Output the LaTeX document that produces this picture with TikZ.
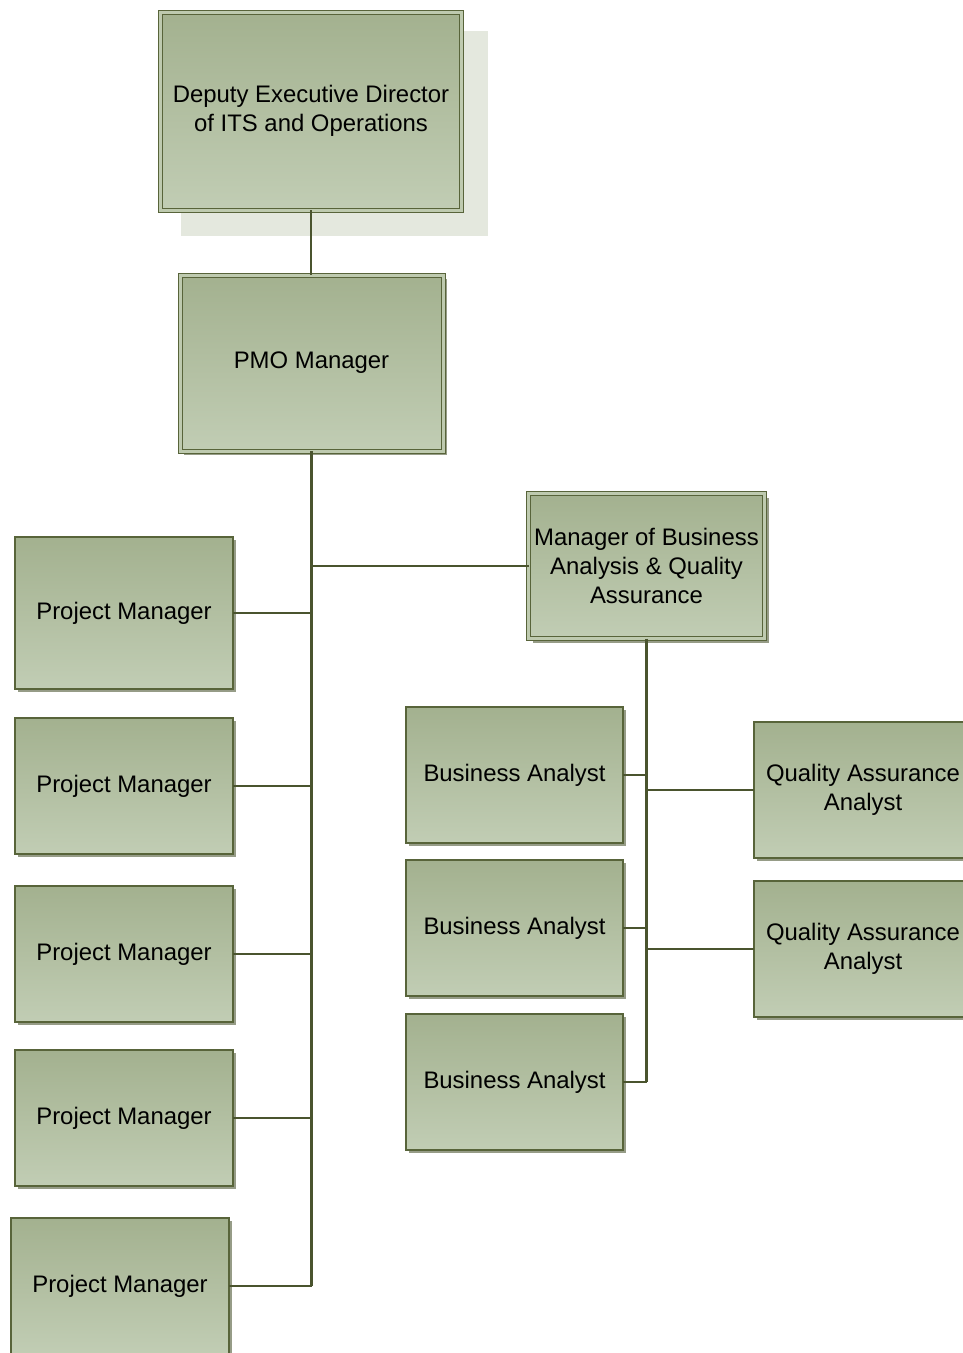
\documentclass[tikz,border=0pt]{standalone}
\usepackage{fontspec}
\setmainfont{Liberation Sans}
\usetikzlibrary{shadows}
\definecolor{boxtop}{RGB}{163,177,143}
\definecolor{boxbot}{RGB}{193,205,180}
\definecolor{edge}{RGB}{88,100,58}
\definecolor{link}{RGB}{74,84,46}
\definecolor{bigshadow}{RGB}{228,232,222}
\definecolor{smallshadow}{RGB}{150,156,135}
\definecolor{gapfill}{RGB}{190,202,175}
\tikzset{
  base/.style={rectangle, inner sep=0pt, outer sep=0pt, align=center,
    top color=boxtop, bottom color=boxbot,
    font=\fontsize{23.9}{29}\selectfont, text=black},
  single/.style={base, draw=edge, line width=1.2pt,
    drop shadow={shadow xshift=3pt, shadow yshift=-3pt, fill=smallshadow, opacity=1}},
  dbl/.style={base, draw=edge, line width=1pt, double=gapfill, double distance=3pt},
  dblshadow/.style={dbl, drop shadow={shadow xshift=4pt, shadow yshift=-4pt, fill=smallshadow, opacity=1}},
  trunk/.style={draw=link, line width=3pt},
  twig/.style={draw=link, line width=2pt},
}
\begin{document}
\begin{tikzpicture}[x=1pt,y=-1pt]
\useasboundingbox (0,0) rectangle (963,1353);
% big soft shadow of top box
\fill[bigshadow] (181,31) rectangle (488,236);
\node[dbl, minimum width=301pt, minimum height=198pt] (ded) at (311,111) {Deputy Executive Director\\of ITS and Operations};
\node[dblshadow, minimum width=263pt, minimum height=176pt] (pmo) at (311.5,363) {PMO Manager};
\node[dblshadow, minimum width=236pt, minimum height=145pt] (mba) at (646.5,566) {Manager of Business\\Analysis \& Quality\\Assurance};
% project managers
\node[single, minimum width=218pt, minimum height=152pt] (pm1) at (124,613) {Project Manager};
\node[single, minimum width=218pt, minimum height=136pt] (pm2) at (124,786) {Project Manager};
\node[single, minimum width=218pt, minimum height=136pt] (pm3) at (124,954) {Project Manager};
\node[single, minimum width=218pt, minimum height=136pt] (pm4) at (124,1118) {Project Manager};
\node[single, minimum width=218pt, minimum height=136pt] (pm5) at (120,1286) {Project Manager};
% business analysts
\node[single, minimum width=217pt, minimum height=136pt] (ba1) at (514.5,775) {Business Analyst};
\node[single, minimum width=217pt, minimum height=136pt] (ba2) at (514.5,928) {Business Analyst};
\node[single, minimum width=217pt, minimum height=136pt] (ba3) at (514.5,1082) {Business Analyst};
% QA analysts
\node[single, minimum width=218pt, minimum height=136pt] (qa1) at (863,790) {Quality Assurance\\Analyst};
\node[single, minimum width=218pt, minimum height=136pt] (qa2) at (863,949) {Quality Assurance\\Analyst};
% connectors
\coordinate (j1) at (311.5,1286);
\coordinate (j2) at (646.5,1082);
\draw[twig] (ded.south) -- (ded.south |- pmo.north);
\draw[trunk] (pmo.south) -- (j1);
\draw[twig] (pm5.east) -- (j1);
\draw[twig] (pm1.east) -- (pm1.east -| pmo.south);
\draw[twig] (pm2.east) -- (pm2.east -| pmo.south);
\draw[twig] (pm3.east) -- (pm3.east -| pmo.south);
\draw[twig] (pm4.east) -- (pm4.east -| pmo.south);
\draw[twig] (mba.west) -- (mba.west -| pmo.south);
\draw[trunk] (mba.south) -- (j2);
\draw[twig] (ba1.east) -- (ba1.east -| mba.south);
\draw[twig] (ba2.east) -- (ba2.east -| mba.south);
\draw[twig] (ba3.east) -- (j2);
\draw[twig] (qa1.west) -- (qa1.west -| mba.south);
\draw[twig] (qa2.west) -- (qa2.west -| mba.south);
\end{tikzpicture}
\end{document}
